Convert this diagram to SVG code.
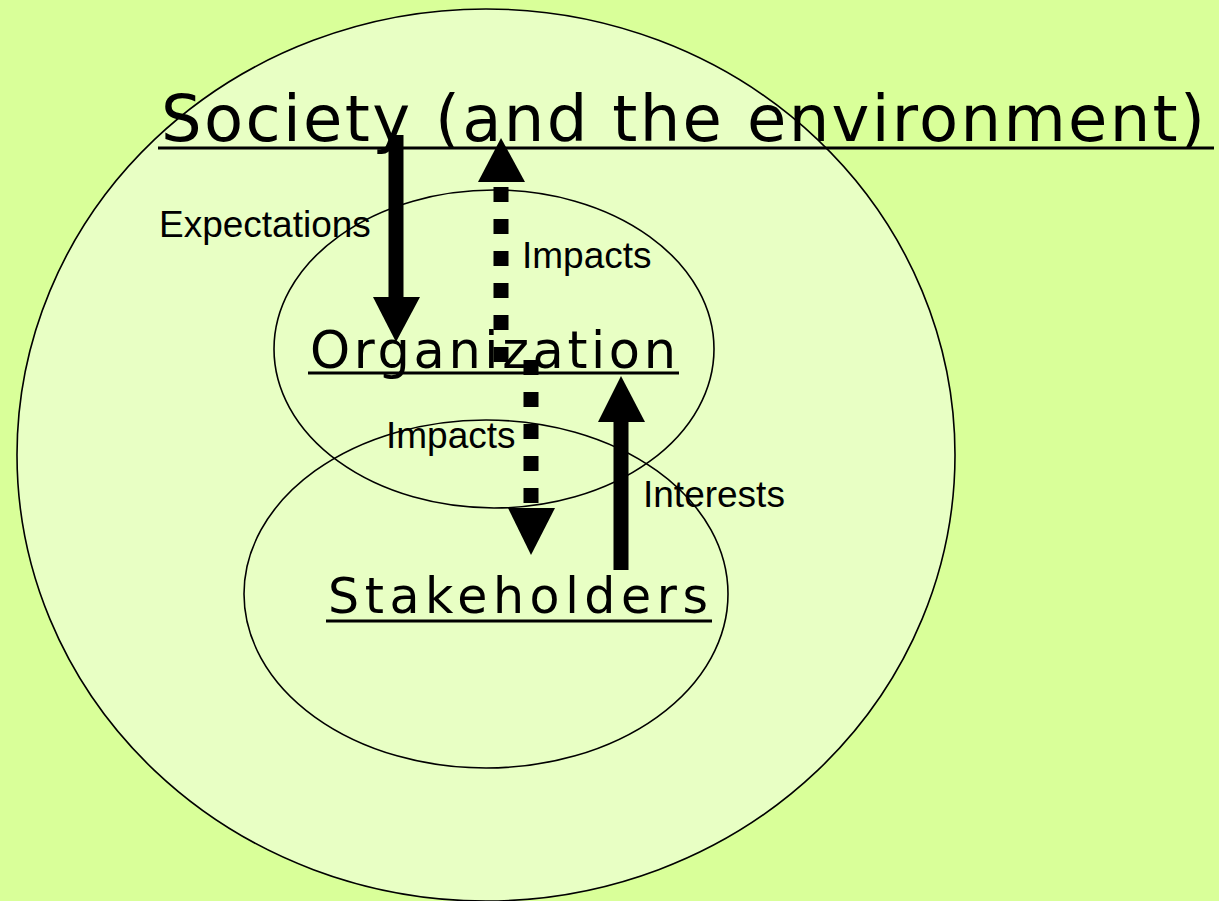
<svg xmlns="http://www.w3.org/2000/svg" width="1219" height="901" viewBox="0 0 1219 901">
<style>
.ring{fill:none;stroke:#000;stroke-width:1.6}
.title{font-family:"DejaVu Sans","Liberation Sans",sans-serif;fill:#000}
.label{font-family:"Liberation Sans",Arial,sans-serif;font-size:37px;fill:#000}
.ul{stroke:#000;stroke-width:3}
.solid{stroke:#000;stroke-width:15;fill:none}
.dotted{stroke:#000;stroke-width:15;stroke-dasharray:15 17;fill:none}
.head{fill:#000}
</style>
<rect width="1219" height="901" fill="#D9FF99"/>
<g id="society">
<ellipse cx="486" cy="455" rx="469" ry="446" fill="#E8FFC4" stroke="#000" stroke-width="1.6"/>
<text class="title" x="161" y="141" font-size="64" textLength="1044" lengthAdjust="spacing">Society (and the environment)</text>
<line class="ul" x1="158" y1="148" x2="1214" y2="148"/>
</g>
<g id="organization">
<ellipse class="ring" cx="494" cy="349" rx="220" ry="159"/>
<text class="title" x="310" y="368" font-size="51" textLength="366" lengthAdjust="spacing">Organization</text>
<line class="ul" x1="308" y1="373" x2="679" y2="373"/>
</g>
<g id="stakeholders">
<ellipse class="ring" cx="486" cy="594" rx="242" ry="174"/>
<text class="title" x="328" y="613" font-size="49" textLength="380" lengthAdjust="spacing">Stakeholders</text>
<line class="ul" x1="326" y1="621" x2="712" y2="621"/>
</g>
<g id="connectors">
<g id="expectations">
<line class="solid" x1="396" y1="135" x2="396" y2="299"/>
<polygon class="head" points="373,297 420,297 396,342"/>
<text class="label" x="159" y="237">Expectations</text>
</g>
<g id="impacts-up">
<line class="dotted" x1="501" y1="187" x2="501" y2="362"/>
<polygon class="head" points="478,182 525,182 501,138"/>
<text class="label" x="522" y="268">Impacts</text>
</g>
<g id="impacts-down">
<line class="dotted" x1="531" y1="360" x2="531" y2="504"/>
<polygon class="head" points="508,508 555,508 531,555"/>
<text class="label" x="386" y="448">Impacts</text>
</g>
<g id="interests">
<line class="solid" x1="621" y1="570" x2="621" y2="420"/>
<polygon class="head" points="598,422 645,422 621,376"/>
<text class="label" x="643" y="507">Interests</text>
</g>
</g>
</svg>
